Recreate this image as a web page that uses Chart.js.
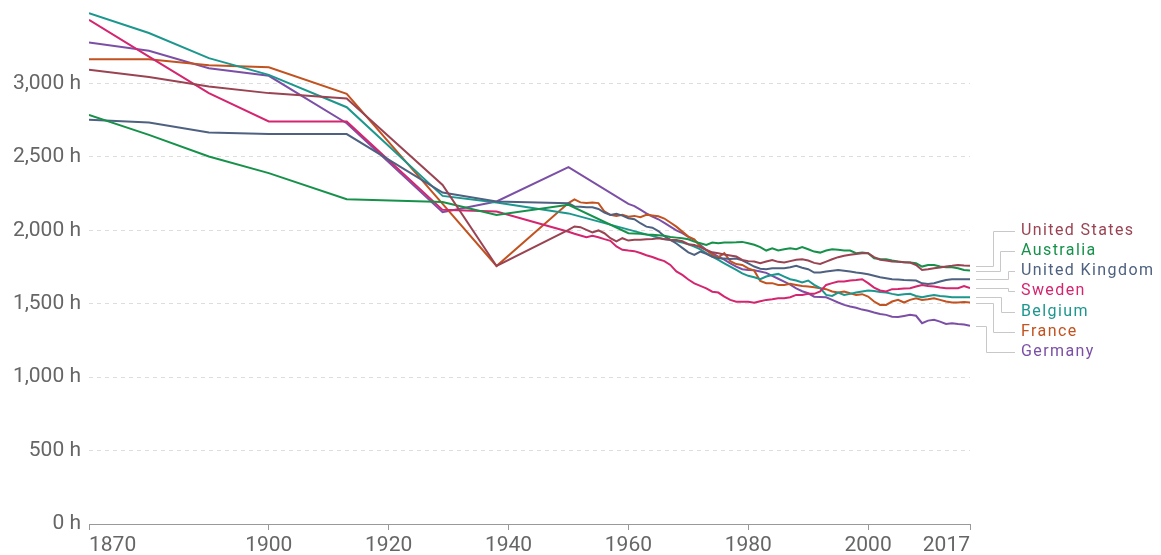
<!DOCTYPE html>
<html>
<head>
<meta charset="utf-8">
<script src="https://cdn.jsdelivr.net/npm/chart.js@4.4.1/dist/chart.umd.min.js"></script>
<style>
  html, body { margin: 0; padding: 0; background: #fff; }
  #wrap { width: 1161px; height: 555px; }
</style>
</head>
<body>
<div id="wrap"><canvas id="chart"></canvas></div>
<script>
// Annual working hours per worker
const years = [1870, 1880, 1890, 1900, 1913, 1929, 1938,
    1950, 1951, 1952, 1953, 1954, 1955, 1956, 1957, 1958, 1959,
    1960, 1961, 1962, 1963, 1964, 1965, 1966, 1967, 1968, 1969,
    1970, 1971, 1972, 1973, 1974, 1975, 1976, 1977, 1978, 1979,
    1980, 1981, 1982, 1983, 1984, 1985, 1986, 1987, 1988, 1989,
    1990, 1991, 1992, 1993, 1994, 1995, 1996, 1997, 1998, 1999,
    2000, 2001, 2002, 2003, 2004, 2005, 2006, 2007, 2008, 2009,
    2010, 2011, 2012, 2013, 2014, 2015, 2016, 2017];

const unitedStates = [3093, 3043, 2979, 2934, 2897, 2309, 1757,
    2003, 2026, 2021, 2003, 1985, 1999, 1980, 1946, 1924, 1946,
    1930, 1935, 1935, 1939, 1940, 1945, 1939, 1935, 1934, 1925,
    1905, 1900, 1885, 1866, 1850, 1844, 1835, 1828, 1821, 1798,
    1790, 1787, 1776, 1787, 1798, 1785, 1780, 1790, 1800, 1803,
    1794, 1778, 1771, 1787, 1803, 1817, 1826, 1833, 1839, 1844,
    1844, 1817, 1800, 1794, 1787, 1785, 1783, 1780, 1764, 1730,
    1735, 1742, 1746, 1753, 1758, 1764, 1760, 1758];

const australia = [2786, 2650, 2502, 2389, 2212, 2193, 2105,
    2173, null, null, null, null, null, null, null, null, null,
    1980, 1978, 1976, 1972, 1969, 1966, 1962, 1955, 1950, 1945,
    1939, 1923, 1912, 1900, 1916, 1912, 1916, 1916, 1918, 1921,
    1912, 1901, 1885, 1862, 1878, 1862, 1871, 1878, 1871, 1885,
    1871, 1855, 1848, 1862, 1871, 1867, 1862, 1862, 1844, 1848,
    1844, 1810, 1805, 1803, 1794, 1787, 1783, 1780, 1776, 1753,
    1764, 1764, 1753, 1749, 1749, 1742, 1730, 1726];

const unitedKingdom = [2752, 2734, 2666, 2655, 2655, 2257, 2196,
    2184, 2162, 2160, 2157, 2157, 2145, 2121, 2105, 2112, 2100,
    2082, 2075, 2048, 2025, 2018, 1995, 1960, 1935, 1910, 1880,
    1850, 1832, 1855, 1840, 1820, 1810, 1808, 1805, 1808, 1795,
    1775, 1753, 1738, 1735, 1742, 1742, 1742, 1749, 1758, 1745,
    1735, 1712, 1712, 1719, 1725, 1730, 1725, 1719, 1712, 1708,
    1700, 1690, 1680, 1674, 1667, 1665, 1662, 1660, 1658, 1639,
    1635, 1639, 1651, 1662, 1667, 1667, 1667, 1667];

const sweden = [3433, 3183, 2934, 2741, 2741, 2139, 2128,
    1990, 1976, 1965, 1953, 1962, 1953, 1940, 1928, 1890, 1867,
    1862, 1858, 1845, 1830, 1818, 1803, 1790, 1764, 1720, 1696,
    1665, 1639, 1621, 1605, 1582, 1576, 1548, 1526, 1514, 1514,
    1514, 1506, 1517, 1526, 1531, 1537, 1537, 1544, 1560, 1560,
    1567, 1567, 1583, 1628, 1640, 1651, 1651, 1658, 1662, 1667,
    1640, 1610, 1590, 1583, 1599, 1600, 1604, 1606, 1617, 1628,
    1620, 1617, 1610, 1606, 1606, 1606, 1621, 1606];

const belgium = [3479, 3343, 3172, 3058, 2838, 2234, 2189,
    2115, null, null, null, null, null, null, null, null, null,
    null, null, null, null, null, 1950, 1940, 1934, 1925, 1916,
    1905, 1889, 1870, 1844, 1820, 1798, 1775, 1753, 1730, 1707,
    1690, 1680, 1667, 1685, 1696, 1703, 1685, 1667, 1658, 1644,
    1658, 1628, 1606, 1560, 1553, 1576, 1560, 1567, 1576, 1583,
    1590, 1586, 1580, 1576, 1567, 1560, 1565, 1567, 1553, 1544,
    1553, 1560, 1553, 1549, 1544, 1544, 1544, 1544];

const france = [3165, 3165, 3124, 3110, 2929, 2180, 1757,
    2185, 2211, 2190, 2185, 2190, 2185, 2128, 2105, 2098, 2105,
    2093, 2098, 2089, 2105, 2100, 2095, 2080, 2053, 2025, 1991,
    1957, 1939, 1889, 1866, 1832, 1816, 1844, 1790, 1770, 1764,
    1741, 1725, 1655, 1640, 1640, 1628, 1628, 1635, 1628, 1621,
    1617, 1612, 1606, 1599, 1583, 1576, 1583, 1571, 1560, 1565,
    1549, 1515, 1492, 1492, 1515, 1526, 1508, 1526, 1537, 1526,
    1531, 1537, 1526, 1515, 1508, 1508, 1512, 1508];

const germany = [3279, 3222, 3104, 3052, 2729, 2123, 2196,
    2430, null, null, null, null, null, null, null, null, null,
    2180, 2165, 2140, 2115, 2094, 2075, 2050, 2025, 2000, 1980,
    1955, 1934, 1900, 1866, 1845, 1821, 1800, 1775, 1752, 1735,
    1730, 1728, 1720, 1710, 1690, 1670, 1650, 1630, 1605, 1585,
    1571, 1548, 1546, 1544, 1526, 1508, 1492, 1481, 1472, 1460,
    1452, 1440, 1430, 1424, 1412, 1410, 1417, 1424, 1418, 1367,
    1385, 1390, 1378, 1362, 1367, 1362, 1358, 1350];

const xTicks = [1870, 1900, 1920, 1940, 1960, 1980, 2000, 2017];
const yTicks = [0, 500, 1000, 1500, 2000, 2500, 3000];

const series = [
    { label: "United States", values: unitedStates, color: "#9a4352" },
    { label: "Australia", values: australia, color: "#16914a" },
    { label: "United Kingdom", values: unitedKingdom, color: "#4e6181" },
    { label: "Sweden", values: sweden, color: "#d4256e" },
    { label: "Belgium", values: belgium, color: "#1c978e" },
    { label: "France", values: france, color: "#c2521f" },
    { label: "Germany", values: germany, color: "#7c4fa6" }
];

Chart.defaults.font.family = "Roboto, sans-serif";
Chart.defaults.font.size = 21;
Chart.defaults.color = "#666";

// end-of-line labels with elbow connectors
const endLabels = {
    id: "endLabels",
    afterDatasetsDraw(chart) {
        const ctx = chart.ctx;
        const gap = 20.2;
        const items = chart.data.datasets.map((ds, i) => {
            const pts = chart.getDatasetMeta(i).data.filter(p => !p.skip);
            const last = pts[pts.length - 1];
            return { label: ds.label, color: ds.borderColor, x: last.x, ty: last.y };
        }).sort((a, b) => a.ty - b.ty);

        let groups = items.map(it => ({ items: [it] }));
        const place = g => {
            const mean = g.items.reduce((s, it) => s + it.ty, 0) / g.items.length;
            g.top = mean - (g.items.length - 1) * gap / 2 + 1.5;
        };
        groups.forEach(place);
        let merged = true;
        while (merged) {
            merged = false;
            for (let i = 0; i < groups.length - 1; i++) {
                const a = groups[i], b = groups[i + 1];
                if (a.top + (a.items.length - 1) * gap + gap > b.top) {
                    a.items = a.items.concat(b.items);
                    groups.splice(i + 1, 1);
                    place(a);
                    merged = true;
                    break;
                }
            }
        }
        groups.forEach(g => g.items.forEach((it, k) => { it.ly = g.top + k * gap; }));

        const up = items.filter(it => it.ly < it.ty - 0.5).reverse();
        const down = items.filter(it => it.ly >= it.ty - 0.5);
        up.forEach((it, j) => { it.vx = 1007.5 - 7.5 * j; });
        down.forEach((it, j) => { it.vx = 1008 - 7.5 * j; });

        ctx.save();
        ctx.strokeStyle = "#c8c8c8";
        ctx.lineWidth = 1;
        items.forEach(it => {
            ctx.beginPath();
            ctx.moveTo(it.x + 6, Math.round(it.ty) + 0.5);
            ctx.lineTo(Math.round(it.vx) + 0.5, Math.round(it.ty) + 0.5);
            ctx.lineTo(Math.round(it.vx) + 0.5, Math.round(it.ly) + 0.5);
            ctx.lineTo(1015, Math.round(it.ly) + 0.5);
            ctx.stroke();
        });
        ctx.font = "16px Roboto, sans-serif";
        ctx.letterSpacing = "1.4px";
        ctx.textBaseline = "middle";
        ctx.textAlign = "left";
        items.forEach(it => {
            ctx.fillStyle = it.color;
            ctx.fillText(it.label, 1021, it.ly);
        });
        ctx.restore();
    }
};

new Chart(document.getElementById("chart"), {
    type: "line",
    data: {
        datasets: series.map(s => ({
            label: s.label,
            data: years.map((yr, i) => ({ x: yr, y: s.values[i] })),
            borderColor: s.color,
            backgroundColor: s.color,
            borderWidth: 2,
            pointRadius: 0,
            tension: 0,
            spanGaps: true
        }))
    },
    options: {
        responsive: true,
        maintainAspectRatio: false,
        animation: false,
        layout: { padding: { top: 10, right: 191, left: 0, bottom: 0 } },
        plugins: {
            legend: { display: false },
            tooltip: { enabled: false }
        },
        scales: {
            x: {
                type: "linear",
                min: 1870,
                max: 2017,
                afterBuildTicks: s => { s.ticks = xTicks.map(v => ({ value: v })); },
                afterFit: s => {
                    s.height = 31;
                    s.paddingLeft = 0;
                    s.paddingRight = 0;
                },
                ticks: {
                    align: "inner",
                    maxRotation: 0,
                    padding: 3,
                    color: "#666",
                    callback: v => String(v)
                },
                grid: {
                    drawOnChartArea: false,
                    drawTicks: true,
                    tickLength: 6,
                    color: "#999"
                },
                border: { display: true, color: "#999" }
            },
            y: {
                min: 0,
                max: 3500,
                afterBuildTicks: s => { s.ticks = yTicks.map(v => ({ value: v })); },
                afterFit: s => {
                    s.width = 89;
                    s.paddingTop = 0;
                    s.paddingBottom = 0;
                },
                ticks: {
                    padding: 8,
                    color: "#666",
                    callback: v => v.toLocaleString("en-US") + " h"
                },
                grid: {
                    drawTicks: false,
                    color: c => c.tick && c.tick.value === 0 ? "rgba(0,0,0,0)" : "#ddd"
                },
                border: { display: false, dash: [4, 4] }
            }
        }
    },
    plugins: [endLabels]
});
</script>
</body>
</html>
